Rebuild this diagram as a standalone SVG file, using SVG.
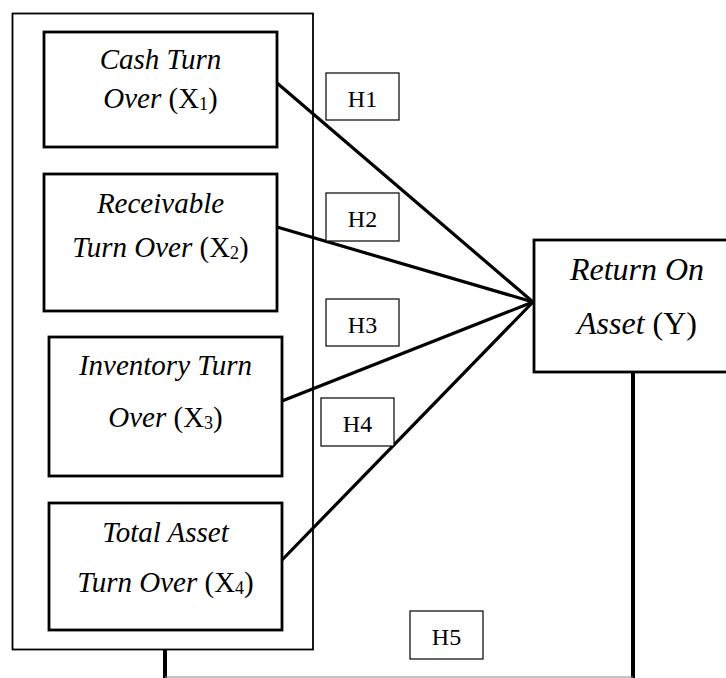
<svg xmlns="http://www.w3.org/2000/svg" width="726" height="678" viewBox="0 0 726 678">
<style>
.box{fill:#fff;stroke:#000;stroke-width:2.8}
.hbox{fill:#fff;stroke:#000;stroke-width:1.2}
.outer{fill:none;stroke:#000;stroke-width:1.8}
.t{font-family:"Liberation Serif","Times New Roman",serif;font-size:29px;fill:#000;text-anchor:middle}
.ty{font-size:32px}
.i{font-style:italic}
.sub{font-size:18px}
.h{font-family:"Liberation Serif","Times New Roman",serif;font-size:24px;fill:#000;text-anchor:middle}
.ln{stroke:#000;stroke-width:3.2;fill:none}
.thick{stroke:#000;stroke-width:4;fill:none}
.thin{stroke:#888;stroke-width:1.2;fill:none}
</style>
<rect width="726" height="678" fill="#fff"/>
<g id="independent-group">
<rect class="outer" x="12.5" y="13.5" width="300.5" height="636"/>
</g>
<g id="connectors">
<line class="ln" x1="277" y1="83" x2="533" y2="302"/>
<line class="ln" x1="277" y1="227" x2="533" y2="302"/>
<line class="ln" x1="282" y1="401" x2="533" y2="302"/>
<line class="ln" x1="282" y1="560" x2="533" y2="302"/>
<line class="thick" x1="165" y1="650" x2="165" y2="678"/>
<line class="thick" x1="633" y1="372" x2="633" y2="678"/>
<line class="thin" x1="165" y1="677" x2="633" y2="677"/>
</g>
<g id="x1">
<rect class="box" x="44" y="32" width="233" height="115"/>
<text class="t" x="160.5" y="69"><tspan class="i">Cash Turn</tspan></text>
<text class="t" x="160.5" y="108"><tspan class="i">Over</tspan> (X<tspan class="sub" dy="2">1</tspan><tspan dy="-2">)</tspan></text>
</g>
<g id="x2">
<rect class="box" x="44" y="174" width="233" height="137"/>
<text class="t" x="160.5" y="213"><tspan class="i">Receivable</tspan></text>
<text class="t" x="160.5" y="257"><tspan class="i">Turn Over</tspan> (X<tspan class="sub" dy="2">2</tspan><tspan dy="-2">)</tspan></text>
</g>
<g id="x3">
<rect class="box" x="49" y="337" width="233" height="139"/>
<text class="t" x="165.5" y="375"><tspan class="i">Inventory Turn</tspan></text>
<text class="t" x="165.5" y="427"><tspan class="i">Over</tspan> (X<tspan class="sub" dy="2">3</tspan><tspan dy="-2">)</tspan></text>
</g>
<g id="x4">
<rect class="box" x="49" y="503" width="233" height="127"/>
<text class="t" x="165.5" y="542"><tspan class="i">Total Asset</tspan></text>
<text class="t" x="165.5" y="592"><tspan class="i">Turn Over</tspan> (X<tspan class="sub" dy="2">4</tspan><tspan dy="-2">)</tspan></text>
</g>
<g id="y">
<rect class="box" x="534" y="240" width="210" height="132"/>
<text class="t ty" x="637" y="280"><tspan class="i">Return On</tspan></text>
<text class="t ty" x="637" y="334"><tspan class="i">Asset</tspan> (Y)</text>
</g>
<g id="h1"><rect class="hbox" x="326" y="73" width="73" height="47"/><text class="h" x="362.5" y="107">H1</text></g>
<g id="h2"><rect class="hbox" x="326" y="193" width="73" height="48"/><text class="h" x="362.5" y="227">H2</text></g>
<g id="h3"><rect class="hbox" x="326" y="299" width="73" height="47"/><text class="h" x="362.5" y="333">H3</text></g>
<g id="h4"><rect class="hbox" x="321" y="398" width="73" height="48"/><text class="h" x="357.5" y="432">H4</text></g>
<g id="h5"><rect class="hbox" x="410" y="611" width="73" height="48"/><text class="h" x="446.5" y="645">H5</text></g>
</svg>
